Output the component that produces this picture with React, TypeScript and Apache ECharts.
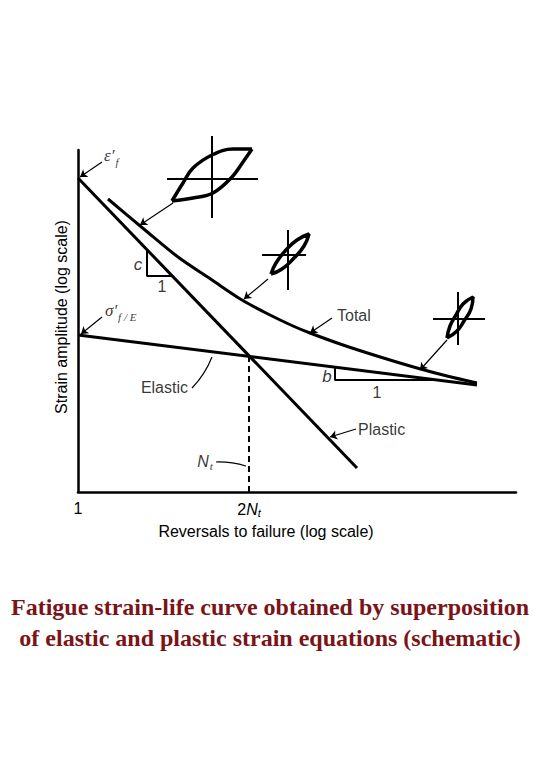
import React, { useEffect, useRef } from 'react';
import * as echarts from 'echarts';

// Schematic units: x = distance along "reversals" axis, y = height above the x-axis
const plasticLine = [[0, 314], [279, 24]];
const elasticLine = [[0, 157], [399, 107]];
const totalCurve = [
  [30, 293], [67, 262], [100, 235], [134, 212], [164, 192], [190, 178], [215, 166],
  [232, 159], [265, 147], [299, 136], [339, 124], [369, 116], [399, 109],
];
const transitionDrop = [[171, 136], [171, 0]];
const slopeC = [[69, 242], [69, 216], [93, 216]];
const slopeB = [[257, 125], [257, 112], [362, 112]];

const loopLargeUpper = [[94, 291], [105, 309], [115, 324], [134, 337], [155, 343], [174, 343]];
const loopLargeLower = [[94, 291], [115, 294], [135, 299], [154, 315], [165, 330], [174, 343]];
const loopLargeCrossH = [[89, 313], [180, 313]];
const loopLargeCrossV = [[134, 356], [134, 274]];

const loopMid = [[193, 218], [198, 229], [208, 242], [219, 252], [231, 258], [226, 246], [216, 234], [204, 223], [193, 218]];
const loopMidCrossH = [[184, 237], [228, 237]];
const loopMidCrossV = [[210, 262], [210, 202]];

const loopSmall = [[369, 154], [372, 166], [378, 177], [385, 188], [395, 195], [393, 183], [386, 171], [379, 161], [369, 154]];
const loopSmallCrossH = [[355, 173], [407, 173]];
const loopSmallCrossV = [[380, 200], [380, 147]];

const arrowLeaders = [
  [[95, 289], [62, 267]],
  [[190, 213], [166, 193]],
  [[369, 152], [342, 122]],
  [[254, 174], [232, 159]],
  [[278, 63], [252, 55]],
  [[24, 330], [2, 315]],
  [[24, 175], [3, 158]],
];
const plainLeaders = [
  { coords: [[114, 104], [134, 135]], curveness: -0.1 },
  { coords: [[138, 30], [168, 26]], curveness: 0.08 },
];

const annotationPos = [[26, 335], [27, 180], [60, 228], [84, 206], [249, 116], [299, 100], [259, 177], [280, 63], [110, 105], [127, 31]];
const annotationText = ['{g|ε′}{s|f}', '{g|σ′}{s|f / E}', '{it|c}', '1', '{it|b}', '1', 'Total', 'Plastic', 'Elastic', '{i|N}{s|t}'];
const annotationAlign = ['left', 'left', 'center', 'center', 'center', 'center', 'left', 'left', 'right', 'center'];

const xTickValues = [0, 171];
const xTickLabels = ['1', '2{i|N}{s|t}'];

const titleLines = [
  'Fatigue strain-life curve obtained by superposition',
  'of elastic and plastic strain equations (schematic)',
];
const xTitle = 'Reversals to failure (log scale)';
const yTitle = 'Strain amplitude (log scale)';

const SANS = '"Liberation Sans", Arial, sans-serif';
const SERIF = '"Liberation Serif", "Times New Roman", serif';

const rich = {
  g: { fontFamily: SERIF, fontStyle: 'italic', fontSize: 17, color: '#000', lineHeight: 20, verticalAlign: 'top' },
  s: { fontFamily: SERIF, fontStyle: 'italic', fontSize: 11, color: '#000', lineHeight: 20, verticalAlign: 'bottom', padding: [7, 0, 0, 1] },
  i: { fontFamily: SANS, fontStyle: 'italic', fontSize: 16, color: '#000', lineHeight: 18 },
  it: { fontFamily: SANS, fontStyle: 'italic', fontSize: 17, color: '#000' },
};

function lineSeries(data: number[][], width: number, extra: any = {}) {
  return {
    type: 'line',
    data,
    symbol: 'none',
    clip: false,
    silent: true,
    lineStyle: { color: '#000', width, ...(extra.lineStyle || {}) },
    smooth: extra.smooth || false,
    z: 3,
  };
}

export default function App() {
  const ref = useRef<HTMLDivElement>(null);
  useEffect(() => {
    document.body.style.margin = '0';
    const chart = echarts.init(ref.current!, null, { renderer: 'svg' });
    chart.setOption({
      animation: false,
      backgroundColor: '#fff',
      title: {
        text: titleLines.join('\n'),
        left: 'center',
        top: 586,
        textStyle: { fontFamily: SERIF, fontWeight: 'bold', fontSize: 24, color: '#7a1417', lineHeight: 31, align: 'center' },
      },
      grid: { left: 78, top: 150, width: 438, height: 342 },
      xAxis: {
        type: 'value', min: 0, max: 438,
        axisLine: { show: true, onZero: false, lineStyle: { color: '#000', width: 2.5 } },
        axisTick: { show: false },
        splitLine: { show: false },
        axisLabel: {
          customValues: xTickValues,
          margin: 8,
          fontFamily: SANS, fontSize: 16, color: '#000',
          formatter: (v: number) => xTickLabels[xTickValues.indexOf(v)] ?? '',
          rich: { i: rich.i, s: { fontFamily: SANS, fontStyle: 'italic', fontSize: 11, color: '#000', verticalAlign: 'bottom', lineHeight: 18, padding: [5, 0, 0, 0] } },
        },
      },
      yAxis: {
        type: 'value', min: 0, max: 342,
        axisLine: { show: true, onZero: false, lineStyle: { color: '#000', width: 2.5 } },
        axisTick: { show: false },
        splitLine: { show: false },
        axisLabel: { show: false },
      },
      graphic: [
        { type: 'text', x: 266, y: 531, style: { text: xTitle, fontFamily: SANS, fontSize: 16, fill: '#000', align: 'center', verticalAlign: 'middle' } },
        { type: 'text', x: 61, y: 317, rotation: Math.PI / 2, style: { text: yTitle, fontFamily: SANS, fontSize: 16, fill: '#000', align: 'center', verticalAlign: 'middle' } },
      ],
      series: [
        lineSeries(plasticLine, 3),
        lineSeries(elasticLine, 3),
        lineSeries(totalCurve, 3, { smooth: 0.3 }),
        lineSeries(transitionDrop, 2, { lineStyle: { type: [6, 4] } }),
        lineSeries(slopeC, 2),
        lineSeries(slopeB, 2),
        lineSeries(loopLargeUpper, 3.5, { smooth: 0.4 }),
        lineSeries(loopLargeLower, 3.5, { smooth: 0.4 }),
        lineSeries(loopLargeCrossH, 2),
        lineSeries(loopLargeCrossV, 2),
        lineSeries(loopMid, 3.5, { smooth: 0.5 }),
        lineSeries(loopMidCrossH, 2),
        lineSeries(loopMidCrossV, 2),
        lineSeries(loopSmall, 3.5, { smooth: 0.5 }),
        lineSeries(loopSmallCrossH, 2),
        lineSeries(loopSmallCrossV, 2),
        {
          type: 'lines',
          coordinateSystem: 'cartesian2d',
          silent: true,
          clip: false,
          symbol: ['none', 'arrow'],
          symbolSize: 7,
          lineStyle: { color: '#000', width: 1.2, opacity: 1 },
          data: arrowLeaders.map((c) => ({ coords: c })),
          z: 4,
        },
        {
          type: 'lines',
          coordinateSystem: 'cartesian2d',
          silent: true,
          clip: false,
          symbol: 'none',
          lineStyle: { color: '#000', width: 1.2, opacity: 1 },
          data: plainLeaders.map((p) => ({ coords: p.coords, lineStyle: { curveness: p.curveness } })),
          z: 4,
        },
        {
          type: 'scatter',
          silent: true,
          clip: false,
          symbolSize: 0,
          itemStyle: { color: '#000' },
          data: annotationPos.map((p, k) => ({
            value: p,
            label: {
              show: true,
              position: [0, 0],
              align: annotationAlign[k],
              verticalAlign: 'middle',
              formatter: annotationText[k],
              fontFamily: SANS,
              fontSize: 16,
              color: '#000',
              textBorderWidth: 0,
              rich,
            },
          })),
          z: 5,
        },
      ],
    });
    return () => chart.dispose();
  }, []);
  return <div ref={ref} style={{ width: 540, height: 780 }} />;
}
